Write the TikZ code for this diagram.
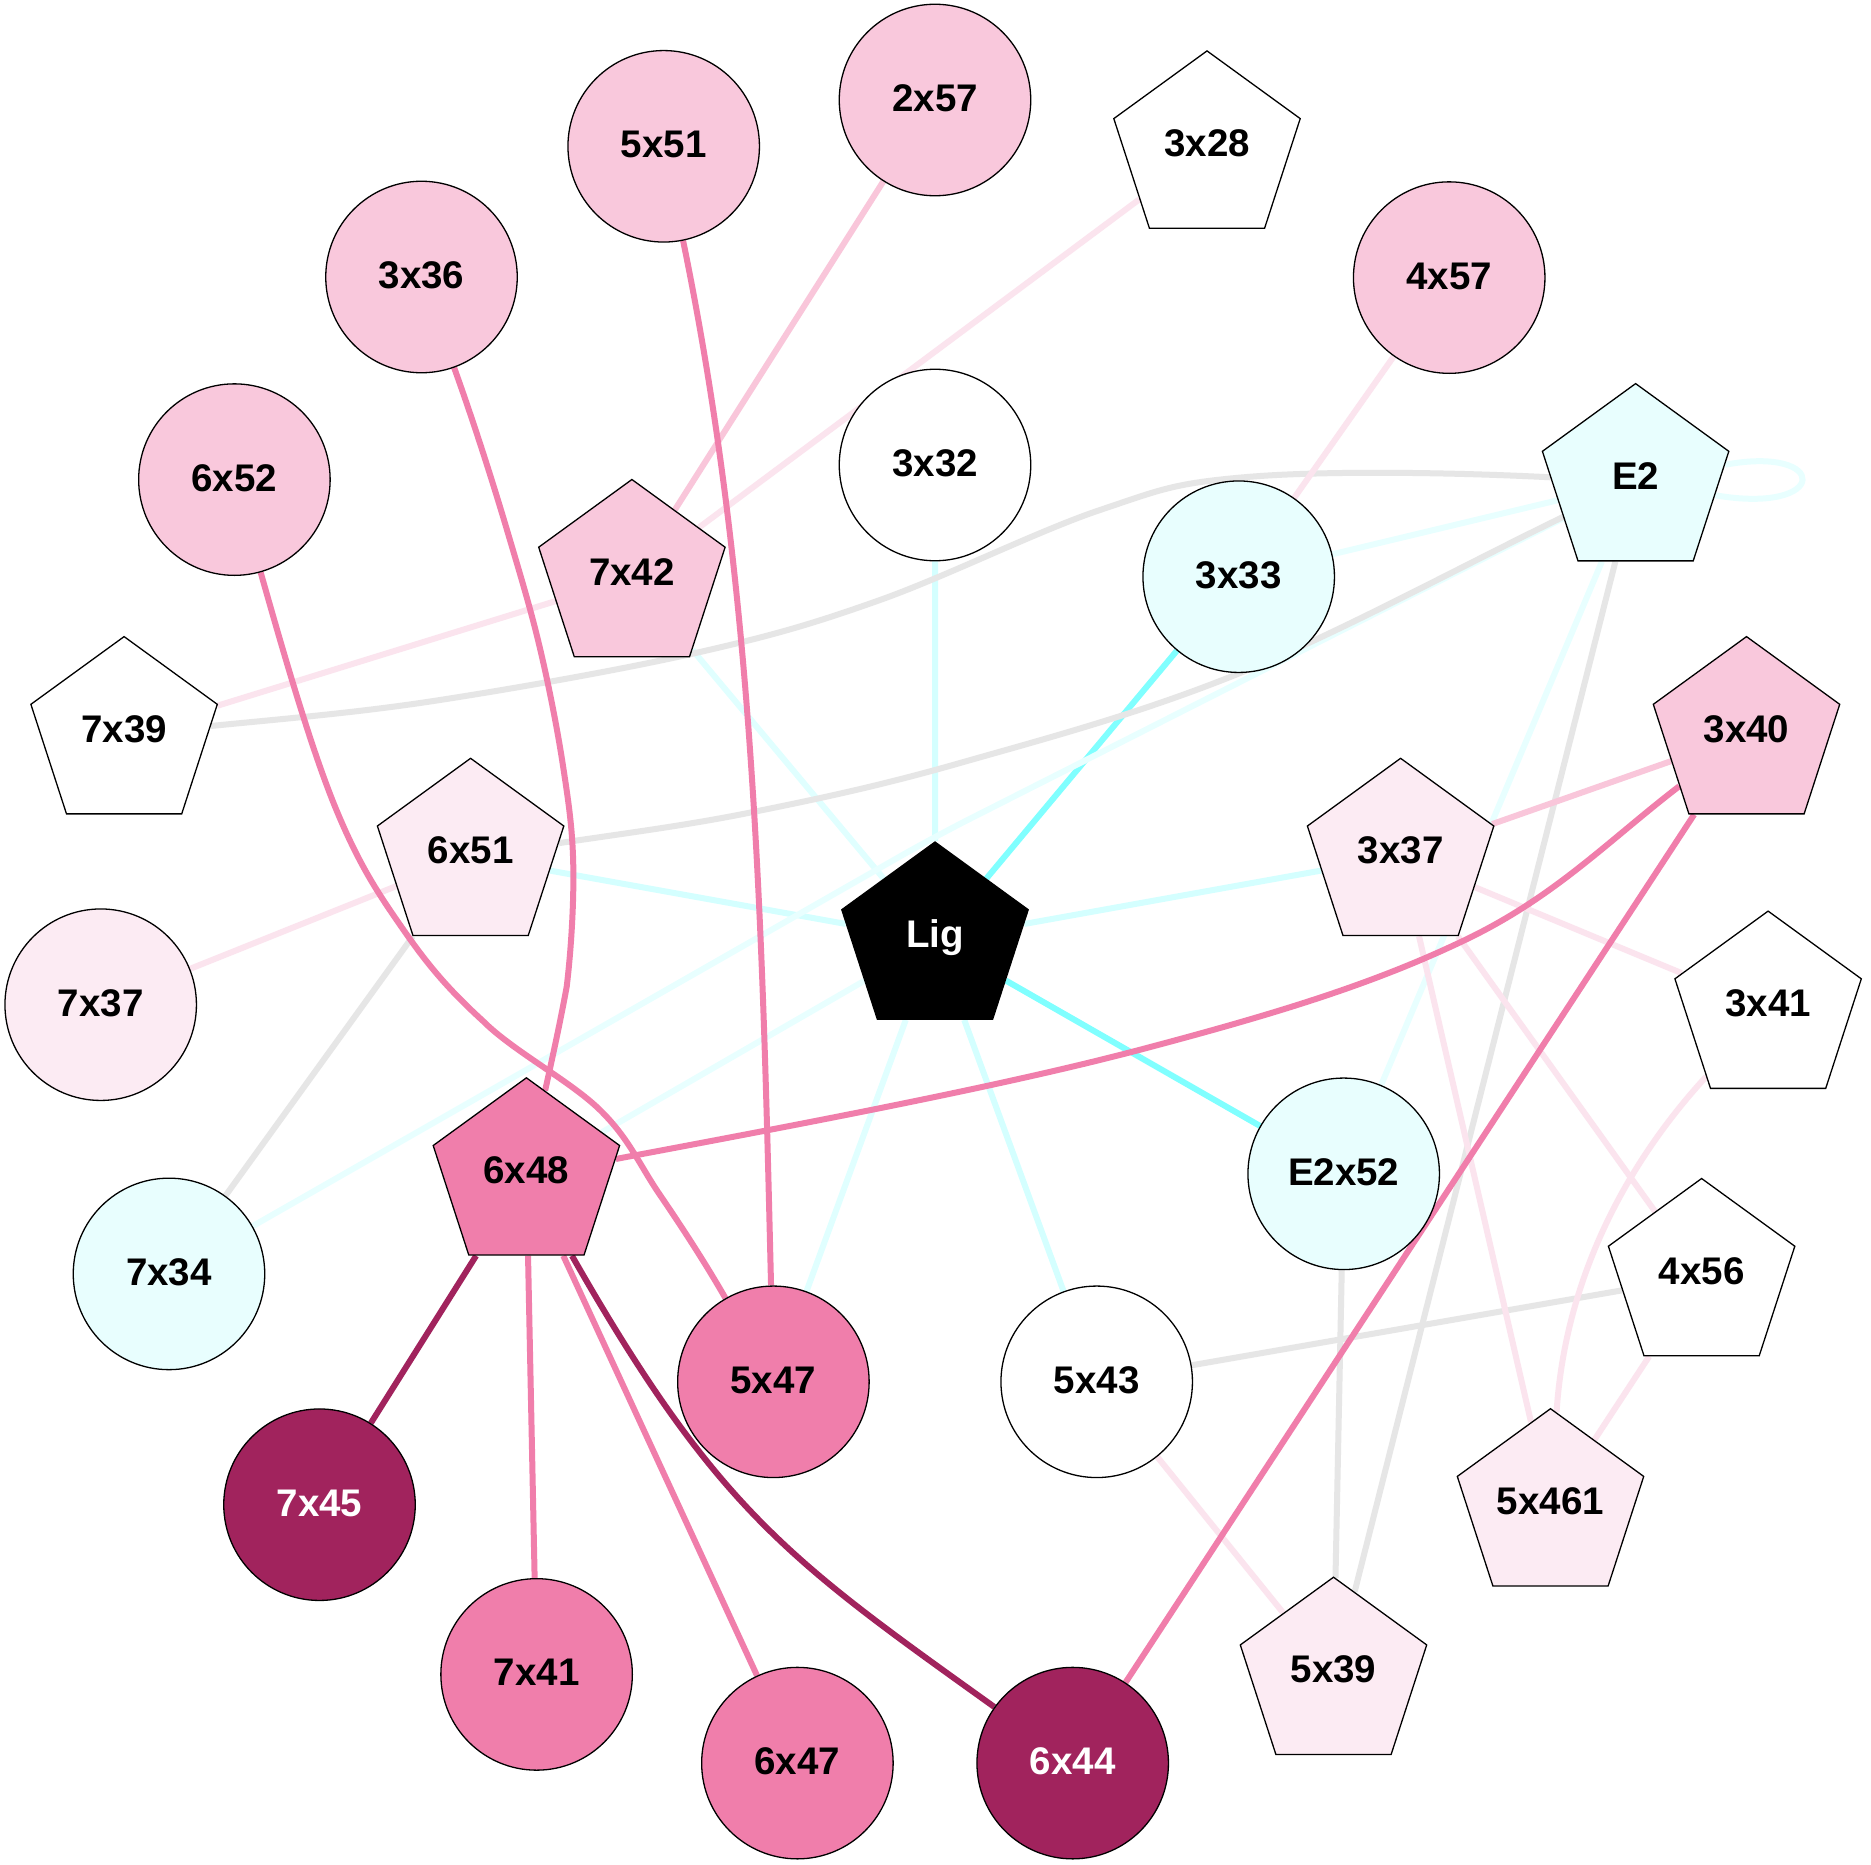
\documentclass[tikz,border=0pt]{standalone}
\usepackage{fontspec}
\setmainfont{Liberation Sans}
\usetikzlibrary{shapes.geometric}
\pgfdeclarelayer{bg}
\pgfdeclarelayer{edges}
\pgfsetlayers{bg,edges,main}
\definecolor{pinkL}{HTML}{F9C8DC}
\definecolor{pinkVL}{HTML}{FCEBF3}
\definecolor{pinkM}{HTML}{F07EAB}
\definecolor{magD}{HTML}{A1235D}
\definecolor{cyanF}{HTML}{E8FEFE}
\definecolor{cyanA}{HTML}{80FFFF}
\definecolor{cyanB}{HTML}{D4FFFF}
\definecolor{cyanBB}{HTML}{E0FFFF}
\definecolor{cyanC}{HTML}{E8FFFF}
\definecolor{greyE}{HTML}{E6E6E6}
\definecolor{pinkEVL}{HTML}{FBE4EE}
\definecolor{pinkEL}{HTML}{F9C6DA}
\begin{document}
\begin{tikzpicture}[x=1pt,y=-1pt,
  every node/.style={font=\fontsize{38.5}{40}\selectfont\bfseries, inner sep=0pt, text height=22.9pt, text depth=0pt},
  circ/.style={circle, draw=black, line width=1.3pt, minimum size=191.5pt},
  pent/.style={regular polygon, regular polygon sides=5, draw=black, line width=1.3pt, minimum size=196pt, text depth=7.7pt},
  lk/.style={line width=6pt},
  lcA/.style={lk, draw=cyanA},
  lcB/.style={lk, draw=cyanB},
  lcBB/.style={lk, draw=cyanBB},
  lcC/.style={lk, draw=cyanC},
  lgr/.style={lk, draw=greyE},
  lpVL/.style={lk, draw=pinkEVL},
  lpL/.style={lk, draw=pinkEL},
  lpM/.style={lk, draw=pinkM},
  lpD/.style={lk, draw=magD},
]
\begin{pgfonlayer}{bg}
\fill[white] (0,0) rectangle (1871,1865);
\end{pgfonlayer}
\useasboundingbox (0,0) rectangle (1871,1865);

% circles
\node[circ, fill=pinkL] (n5x51) at (663.7,146.3) {5x51};
\node[circ, fill=pinkL] (n2x57) at (935,100) {2x57};
\node[circ, fill=pinkL] (n3x36) at (421.5,277) {3x36};
\node[circ, fill=pinkL] (n4x57) at (1449.2,277.6) {4x57};
\node[circ, fill=pinkL] (n6x52) at (234.4,479.6) {6x52};
\node[circ, fill=white] (n3x32) at (935,465) {3x32};
\node[circ, fill=cyanF] (n3x33) at (1238.7,576.7) {3x33};
\node[circ, fill=pinkVL] (n7x37) at (100.7,1004.7) {7x37};
\node[circ, fill=cyanF] (n7x34) at (169,1273.9) {7x34};
\node[circ, fill=cyanF] (nE2x52) at (1343.7,1173.8) {E2x52};
\node[circ, fill=pinkM] (n5x47) at (773.4,1381.8) {5x47};
\node[circ, fill=white] (n5x43) at (1096.7,1381.8) {5x43};
\node[circ, fill=magD, text=white] (n7x45) at (319.5,1504.7) {7x45};
\node[circ, fill=pinkM] (n7x41) at (536.6,1674.4) {7x41};
\node[circ, fill=pinkM] (n6x47) at (797.4,1763.1) {6x47};
\node[circ, fill=magD, text=white] (n6x44) at (1072.7,1763.1) {6x44};

% pentagons
\node[pent, fill=white] (n3x28) at (1207,148.9) {3x28};
\node[pent, fill=cyanF] (nE2) at (1635.6,481.6) {E2};
\node[pent, fill=pinkL] (n7x42) at (631.9,577.5) {7x42};
\node[pent, fill=white] (n7x39) at (124.1,734.6) {7x39};
\node[pent, fill=pinkL] (n3x40) at (1746.5,734.6) {3x40};
\node[pent, fill=pinkVL] (n6x51) at (470.6,856.3) {6x51};
\node[pent, fill=pinkVL] (n3x37) at (1400.6,856.3) {3x37};
\node[pent, fill=black, text=white] (nLig) at (935,940) {Lig};
\node[pent, fill=white] (n3x41) at (1768.1,1009.1) {3x41};
\node[pent, fill=pinkM] (n6x48) at (526.4,1175.8) {6x48};
\node[pent, fill=white] (n4x56) at (1701.6,1276.5) {4x56};
\node[pent, fill=pinkVL] (n5x461) at (1550.5,1506.7) {5x461};
\node[pent, fill=pinkVL] (n5x39) at (1333.5,1675.2) {5x39};

\begin{pgfonlayer}{edges}
% cyan edges
\draw[lcB] (nLig) -- (n3x32);
\draw[lcA] (nLig) -- (n3x33);
\draw[lcA] (nLig) -- (nE2x52);
\draw[lcB] (nLig) -- (n6x51);
\draw[lcB] (nLig) -- (n3x37);
\draw[lcBB] (nLig) -- (n7x42);
\draw[lcBB] (nLig) -- (n5x47);
\draw[lcB] (nLig) -- (n5x43);
\draw[lcC] (nLig) -- (n6x48);
\draw[lcC] (nE2) -- (n3x33);
\draw[lcC] (nE2) .. controls (1830,445) and (1830,515) .. (nE2);
\draw[lcC, rounded corners=40pt] (nE2) -- (934,837) -- (n7x34);
\draw[lcC] (nE2) -- (nE2x52);
% grey edges
\draw[lgr] (nE2) .. controls (1445.7,472) and (1321.2,470.7) .. (1247,477)
  .. controls (1172.8,483.3) and (1161.2,489.5) .. (1100,510)
  .. controls (1038.8,530.5) and (946.7,576.3) .. (880,600)
  .. controls (813.3,623.7) and (773.3,635.3) .. (700,652)
  .. controls (626.7,668.7) and (520.5,687.5) .. (440,700)
  .. controls (359.5,712.5) and (291.3,718) .. (n7x39);
\draw[lgr] (nE2) .. controls (1454.7,569.7) and (1340.3,632.2) .. (1240,673)
  .. controls (1139.7,713.8) and (1041.2,739.8) .. (960,763)
  .. controls (878.8,786.2) and (818.5,798.7) .. (753,812)
  .. controls (687.5,825.3) and (629,832.7) .. (n6x51);
\draw[lgr] (nE2) -- (n5x39);
\draw[lgr] (n6x51) -- (n7x34);
\draw[lgr] (n4x56) -- (n5x43);
\draw[lgr] (nE2x52) -- (n5x39);
% very light pink edges
\draw[lpVL] (n6x51) -- (n7x37);
\draw[lpVL] (n7x42) -- (n7x39);
\draw[lpVL] (n7x42) -- (n3x28);
\draw[lpVL] (n3x33) -- (n4x57);
\draw[lpVL] (n3x37) -- (n3x41);
\draw[lpVL] (n3x37) -- (n4x56);
\draw[lpVL] (n3x37) -- (n5x461);
\draw[lpVL] (n3x41) .. controls (1625,1165) and (1565,1280) .. (n5x461);
\draw[lpVL] (n4x56) -- (n5x461);
\draw[lpVL] (n5x43) -- (n5x39);
% light pink edges
\draw[lpL] (n7x42) -- (n2x57);
\draw[lpL] (n3x40) -- (n3x37);
% medium pink edges
\draw[lpM] (n5x51) .. controls (755.5,593) and (762.5,936) .. (n5x47);
\draw[lpM] (n3x36) .. controls (473.4,421.2) and (492.8,482.2) .. (506.7,529)
  .. controls (520.6,575.9) and (530.6,608.6) .. (540,648.4)
  .. controls (549.4,688.2) and (557.8,731.3) .. (563.3,767.8)
  .. controls (568.9,804.3) and (572.7,830.8) .. (573.3,867.3)
  .. controls (573.9,903.8) and (571.1,950.2) .. (566.7,986.7)
  .. controls (560.0,1023.2) and (553.4,1053.0) .. (n6x48);
\draw[lpM] (n6x52) .. controls (283.3,652.3) and (311.3,749.3) .. (336,809)
  .. controls (360.7,868.7) and (380.5,896.7) .. (405,932)
  .. controls (429.5,967.3) and (450.5,991.3) .. (483,1021)
  .. controls (512.5,1050.7) and (570.5,1081) .. (600,1110)
  .. controls (629.5,1139) and (638.7,1163.8) .. (660,1195)
  .. controls (681.3,1226.2) and (705.3,1263) .. (n5x47);
\draw[lpM] (n3x40) .. controls (1608.3,840.7) and (1555.2,896.8) .. (1465,940)
  .. controls (1374.8,983.2) and (1280.3,1012.7) .. (1139,1050)
  .. controls (997.7,1087.3) and (791,1126) .. (n6x48);
\draw[lpM] (n3x40) -- (n6x44);
\draw[lpM] (n6x48) -- (n7x41);
\draw[lpM] (n6x48) -- (n6x47);
% dark magenta edges
\draw[lpD] (n6x48) -- (n7x45);
\draw[lpD] (n6x48) .. controls (718,1512) and (792,1562) .. (n6x44);
\end{pgfonlayer}
\end{tikzpicture}
\end{document}
